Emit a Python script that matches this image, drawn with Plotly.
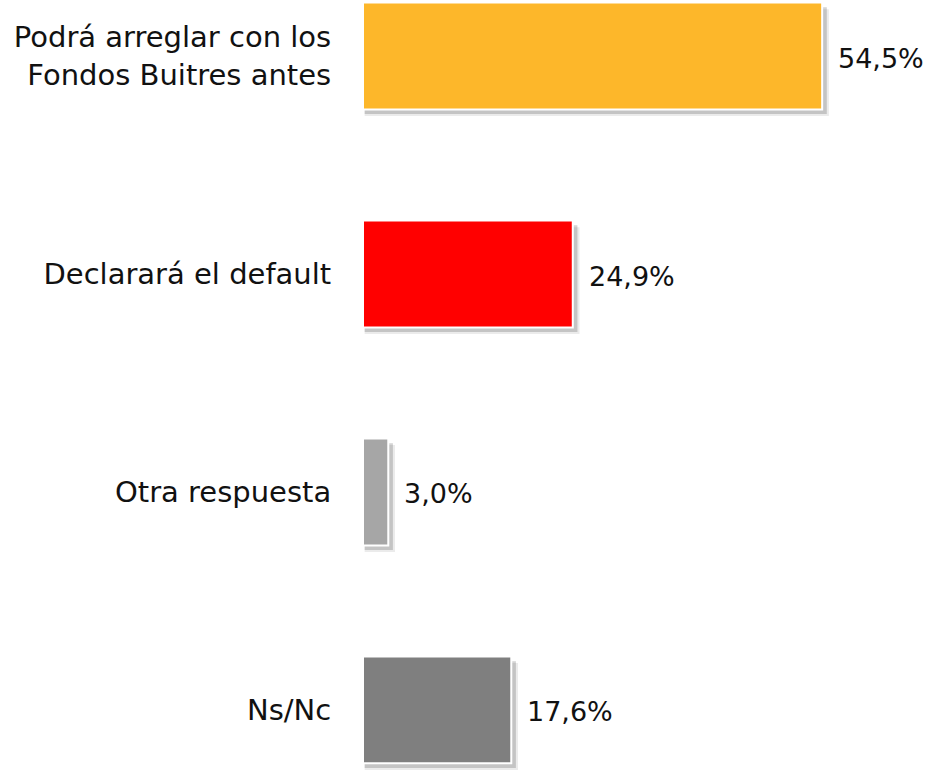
import plotly.graph_objects as go

categories = ["Podrá arreglar con los<br>Fondos Buitres antes", "Declarará el default", "Otra respuesta", "Ns/Nc"]
values = [54.5, 24.9, 3.0, 17.6]
labels = ["54,5%", "24,9%", "3,0%", "17,6%"]
colors = ["#FDB72A", "#FF0000", "#A6A6A6", "#7F7F7F"]

pos = list(range(len(categories)))
FONT = "DejaVu Sans"
W = 0.49

fig = go.Figure()
# soft shadow layers
for extra, dy, alpha in [(0.6, 0.03, 0.10), (0.35, 0.021, 0.22)]:
    fig.add_trace(go.Bar(
        y=pos, x=[v + extra for v in values], base=0.2, orientation="h",
        width=W, offset=-W / 2 + dy,
        marker=dict(color=f"rgba(60,60,60,{alpha})", line=dict(width=0)),
        hoverinfo="skip", showlegend=False))
fig.add_trace(go.Bar(
    y=pos, x=values, orientation="h", width=W, offset=-W / 2,
    marker=dict(color=colors, line=dict(color="white", width=2)),
    showlegend=False))

for p, v, t in zip(pos, values, labels):
    fig.add_annotation(x=v, y=p, text=t, showarrow=False, xanchor="left",
                       xshift=14, yshift=-2, font=dict(family=FONT, size=27, color="#111111"))

fig.update_layout(
    width=930, height=771, barmode="overlay",
    margin=dict(l=363, r=0, t=0, b=0),
    plot_bgcolor="white", paper_bgcolor="white",
    xaxis=dict(range=[0, 67.3], visible=False, fixedrange=True),
    yaxis=dict(range=[3.28, -0.257], tickmode="array", tickvals=pos, ticktext=categories,
               showgrid=False, zeroline=False, showline=False, ticks="outside", ticklen=25,
               tickcolor="rgba(0,0,0,0)", tickfont=dict(family=FONT, size=29, color="#111111"),
               automargin=False, fixedrange=True),
)
fig.write_html("out.html", config={"displayModeBar": False},
               post_script="document.body.style.margin='0';")
